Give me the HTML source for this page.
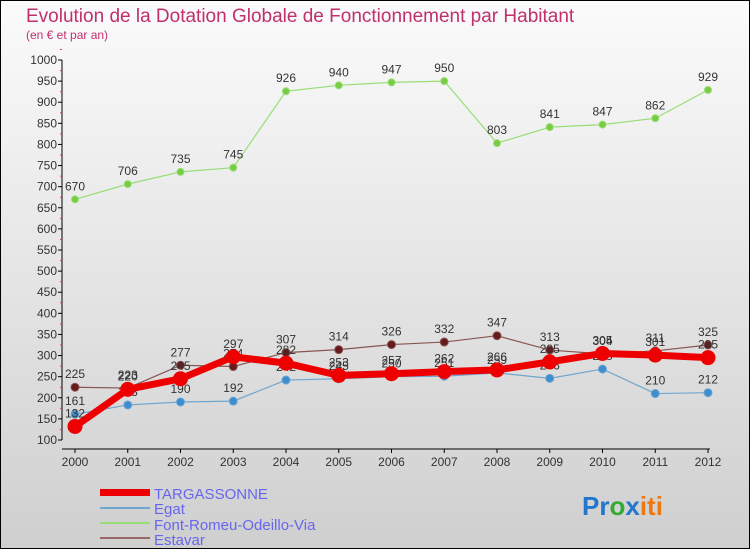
<!DOCTYPE html>
<html><head><meta charset="utf-8"><style>
body{margin:0;width:750px;height:550px;overflow:hidden}
svg{display:block;font-family:"Liberation Sans",sans-serif}
</style></head><body>
<svg id="c" width="750" height="550">
<defs><linearGradient id="bg" x1="0" y1="0" x2="0" y2="1"><stop offset="0" stop-color="#fbfbfb"/><stop offset="1" stop-color="#cfcfcf"/></linearGradient></defs>
<rect x="0.5" y="0.5" width="749" height="548" fill="url(#bg)" stroke="#000"/>
<text x="26" y="22" font-size="19" fill="#c0306b">Evolution de la Dotation Globale de Fonctionnement par Habitant</text>
<text x="26" y="39" font-size="12" fill="#c0306b">(en € et par an)</text>
<g id="axes"></g><g id="series"></g>
<g font-size="15" fill="#6666ee">
<rect x="100" y="489" width="50" height="7" fill="#e00"/>
<text x="154" y="499">TARGASSONNE</text>
<rect x="100" y="507" width="50" height="2" fill="#6fa6d0"/>
<text x="154" y="514">Egat</text>
<rect x="100" y="522" width="50" height="2" fill="#99dd77"/>
<text x="154" y="530">Font-Romeu-Odeillo-Via</text>
<rect x="100" y="537" width="50" height="2" fill="#996666"/>
<text x="154" y="545">Estavar</text>
</g>
<text x="582" y="515" font-size="26" font-weight="bold"><tspan fill="#2277cc">Pr</tspan><tspan fill="#33aa33">o</tspan><tspan fill="#2277cc">x</tspan><tspan fill="#ee7711">iti</tspan></text>
</svg>
<script>
const years=[2000,2001,2002,2003,2004,2005,2006,2007,2008,2009,2010,2011,2012];
const yTicks=[100,150,200,250,300,350,400,450,500,550,600,650,700,750,800,850,900,950,1000];
const targassonne=[132,220,245,297,282,253,257,262,266,285,305,301,295];
const egat=[161,183,190,192,242,245,250,251,259,246,268,210,212];
const fontRomeu=[670,706,735,745,926,940,947,950,803,841,847,862,929];
const estavar=[225,223,277,274,307,314,326,332,347,313,304,311,325];
const NS="http://www.w3.org/2000/svg";
const X=i=>75+i*(708-75)/(years.length-1);
const Y=v=>440-(v-100)*380/900;
function mk(t,a,p){const e=document.createElementNS(NS,t);for(const k in a)e.setAttribute(k,a[k]);p.appendChild(e);return e;}
const ax=document.getElementById('axes');
const yl=mk('line',{x1:62,y1:Y(1000),x2:62,y2:Y(100),stroke:'#000'},ax);


const xl=mk('line',{x1:62,y1:449,x2:710,y2:449,stroke:'#000'},ax);


yTicks.forEach(v=>{
 mk('line',{x1:58,y1:Y(v),x2:62,y2:Y(v),stroke:'#000'},ax);
 const t=mk('text',{x:57,y:Y(v)+4,'font-size':12,'text-anchor':'end',fill:'#333'},ax);t.textContent=v;
 
 
 mk('line',{x1:60,y1:Y(v+25),x2:62,y2:Y(v+25),stroke:'#e33'},ax);
});
years.forEach((yr,i)=>{
 mk('line',{x1:X(i),y1:449,x2:X(i),y2:453,stroke:'#000'},ax);
 const t=mk('text',{x:X(i),y:466,'font-size':12,'text-anchor':'middle',fill:'#333'},ax);t.textContent=yr;
 
 
});
const sg=document.getElementById('series');
function series(vals,color,dot,w,r,name){
 const g=mk('g',{},sg);
 
 
 const pl=mk('polyline',{points:vals.map((v,i)=>X(i)+','+Y(v)).join(' '),fill:'none',stroke:color,'stroke-width':w,'stroke-linejoin':'round'},g);
 
 
 vals.forEach((v,i)=>{
  const c=mk('circle',{cx:X(i),cy:Y(v),r:r,fill:dot,stroke:color},g);
  
  
  const t=mk('text',{x:X(i),y:Y(v)-9,'font-size':12,'text-anchor':'middle',fill:'#333'},g);t.textContent=v;
  
  
 });
}
series(fontRomeu,'#99dd77','#77cc44',1.2,3.5,'font-romeu-series');
series(estavar,'#885555','#661a1a',1.2,4,'estavar-series');
series(egat,'#6fa6d0','#3d8ed0',1.2,4,'egat-series');
series(targassonne,'#ee0000','#ee0000',7,7,'targassonne-series');
</script>
</body></html>
